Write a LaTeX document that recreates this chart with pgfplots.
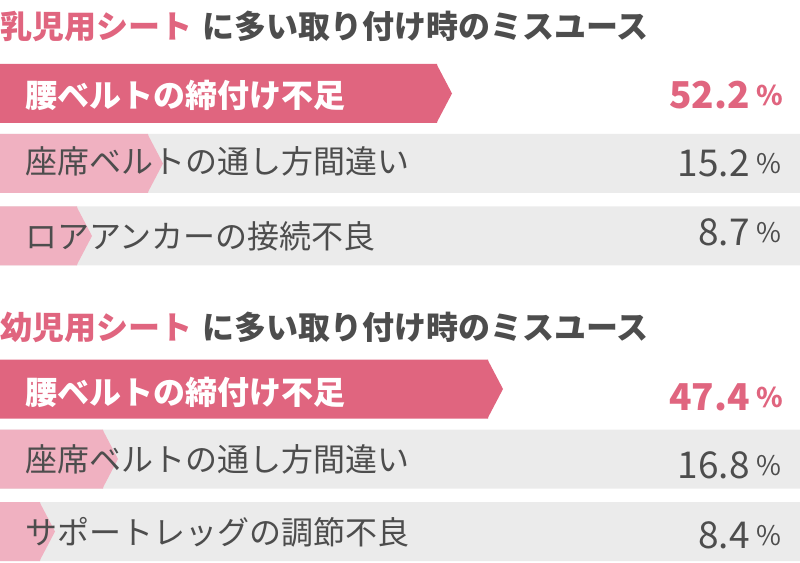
\documentclass[border=0pt]{standalone}
\usepackage{pgfplots}
\pgfplotsset{compat=1.18}
\usepackage{fontspec}
\setmainfont{Noto Sans CJK JP}

\definecolor{pinkdark}{HTML}{E0657F}
\definecolor{pinklight}{HTML}{F0B1C1}
\definecolor{band}{HTML}{EBEBEB}
\definecolor{ink}{HTML}{4D4D4D}

% arrow head put at the end of each bar
\pgfdeclareplotmark{tip}{%
  \pgfpathmoveto{\pgfqpoint{-0.5bp}{29.5bp}}%
  \pgfpathlineto{\pgfqpoint{15bp}{0bp}}%
  \pgfpathlineto{\pgfqpoint{-0.5bp}{-29.5bp}}%
  \pgfpathclose\pgfusepathqfill}

\newcommand\ttl[1]{\fontsize{32bp}{36bp}\selectfont\bfseries #1}
\newcommand\lab[1]{\fontsize{32bp}{36bp}\selectfont #1}
\newcommand\num[1]{\fontsize{37bp}{40bp}\selectfont #1}
\newcommand\pct{\fontsize{27bp}{30bp}\selectfont\%}

\begin{document}
\begin{tikzpicture}
\begin{axis}[
  width=800bp, height=562bp, scale only axis,
  xmin=0, xmax=800, ymin=0, ymax=562, y dir=reverse,
  hide axis, clip=false, set layers,
]
\path (axis cs:0,0) rectangle (axis cs:800,562);

% grey bands behind rows 2 and 3
\addplot[xbar, bar shift=0pt, bar width=59, fill=band, draw=none]
  coordinates {(800,163.5) (800,236) (800,459) (800,531.5)};

% bar lengths (pixels, as drawn)
\addplot[xbar, bar shift=0pt, bar width=59, fill=pinkdark, draw=none]
  coordinates {(437,93.5) (488,389)};
\addplot[only marks, mark=tip, color=pinkdark]
  coordinates {(437,93.5) (488,389)};
\addplot[xbar, bar shift=0pt, bar width=59, fill=pinklight, draw=none]
  coordinates {(148,163.5) (77,236) (103,459) (40,531.5)};
\addplot[only marks, mark=tip, color=pinklight]
  coordinates {(148,163.5) (77,236) (103,459) (40,531.5)};

\begin{pgfonlayer}{axis foreground}
% titles
\node[anchor=base west, inner sep=0pt] at (axis cs:0,39)
  {\ttl{\textcolor{pinkdark}{乳児用シート}\hspace{10bp}\textcolor{ink}{に多い取り付け時のミスユース}}};
\node[anchor=base west, inner sep=0pt] at (axis cs:0,339.5)
  {\ttl{\textcolor{pinkdark}{幼児用シート}\hspace{10bp}\textcolor{ink}{に多い取り付け時のミスユース}}};

% labels
\node[anchor=base west, inner sep=0pt, text=white] at (axis cs:25,108) {\lab{\bfseries 腰ベルトの締付け不足}};
\node[anchor=base west, inner sep=0pt, text=ink] at (axis cs:25,174) {\lab{座席ベルトの通し方間違い}};
\node[anchor=base west, inner sep=0pt, text=ink] at (axis cs:25,248.5) {\lab{ロアアンカーの接続不良}};
\node[anchor=base west, inner sep=0pt, text=white] at (axis cs:25,404.5) {\lab{\bfseries 腰ベルトの締付け不足}};
\node[anchor=base west, inner sep=0pt, text=ink] at (axis cs:25,471.5) {\lab{座席ベルトの通し方間違い}};
\node[anchor=base west, inner sep=0pt, text=ink] at (axis cs:25,544) {\lab{サポートレッグの調節不良}};

% values
\node[anchor=base east, inner sep=0pt, text=pinkdark] at (axis cs:750,108.5) {\num{\bfseries 52.2}};
\node[anchor=base west, inner sep=0pt, text=pinkdark] at (axis cs:756,105.5) {\bfseries\pct};
\node[anchor=base east, inner sep=0pt, text=ink] at (axis cs:750,177) {\num{15.2}};
\node[anchor=base west, inner sep=0pt, text=ink] at (axis cs:756,174) {\pct};
\node[anchor=base east, inner sep=0pt, text=ink] at (axis cs:750,245.5) {\num{8.7}};
\node[anchor=base west, inner sep=0pt, text=ink] at (axis cs:756,242.5) {\pct};
\node[anchor=base east, inner sep=0pt, text=pinkdark] at (axis cs:750,410.5) {\num{\bfseries 47.4}};
\node[anchor=base west, inner sep=0pt, text=pinkdark] at (axis cs:756,407.5) {\bfseries\pct};
\node[anchor=base east, inner sep=0pt, text=ink] at (axis cs:750,478) {\num{16.8}};
\node[anchor=base west, inner sep=0pt, text=ink] at (axis cs:756,475) {\pct};
\node[anchor=base east, inner sep=0pt, text=ink] at (axis cs:750,548) {\num{8.4}};
\node[anchor=base west, inner sep=0pt, text=ink] at (axis cs:756,545) {\pct};
\end{pgfonlayer}
\end{axis}
\end{tikzpicture}
\end{document}
